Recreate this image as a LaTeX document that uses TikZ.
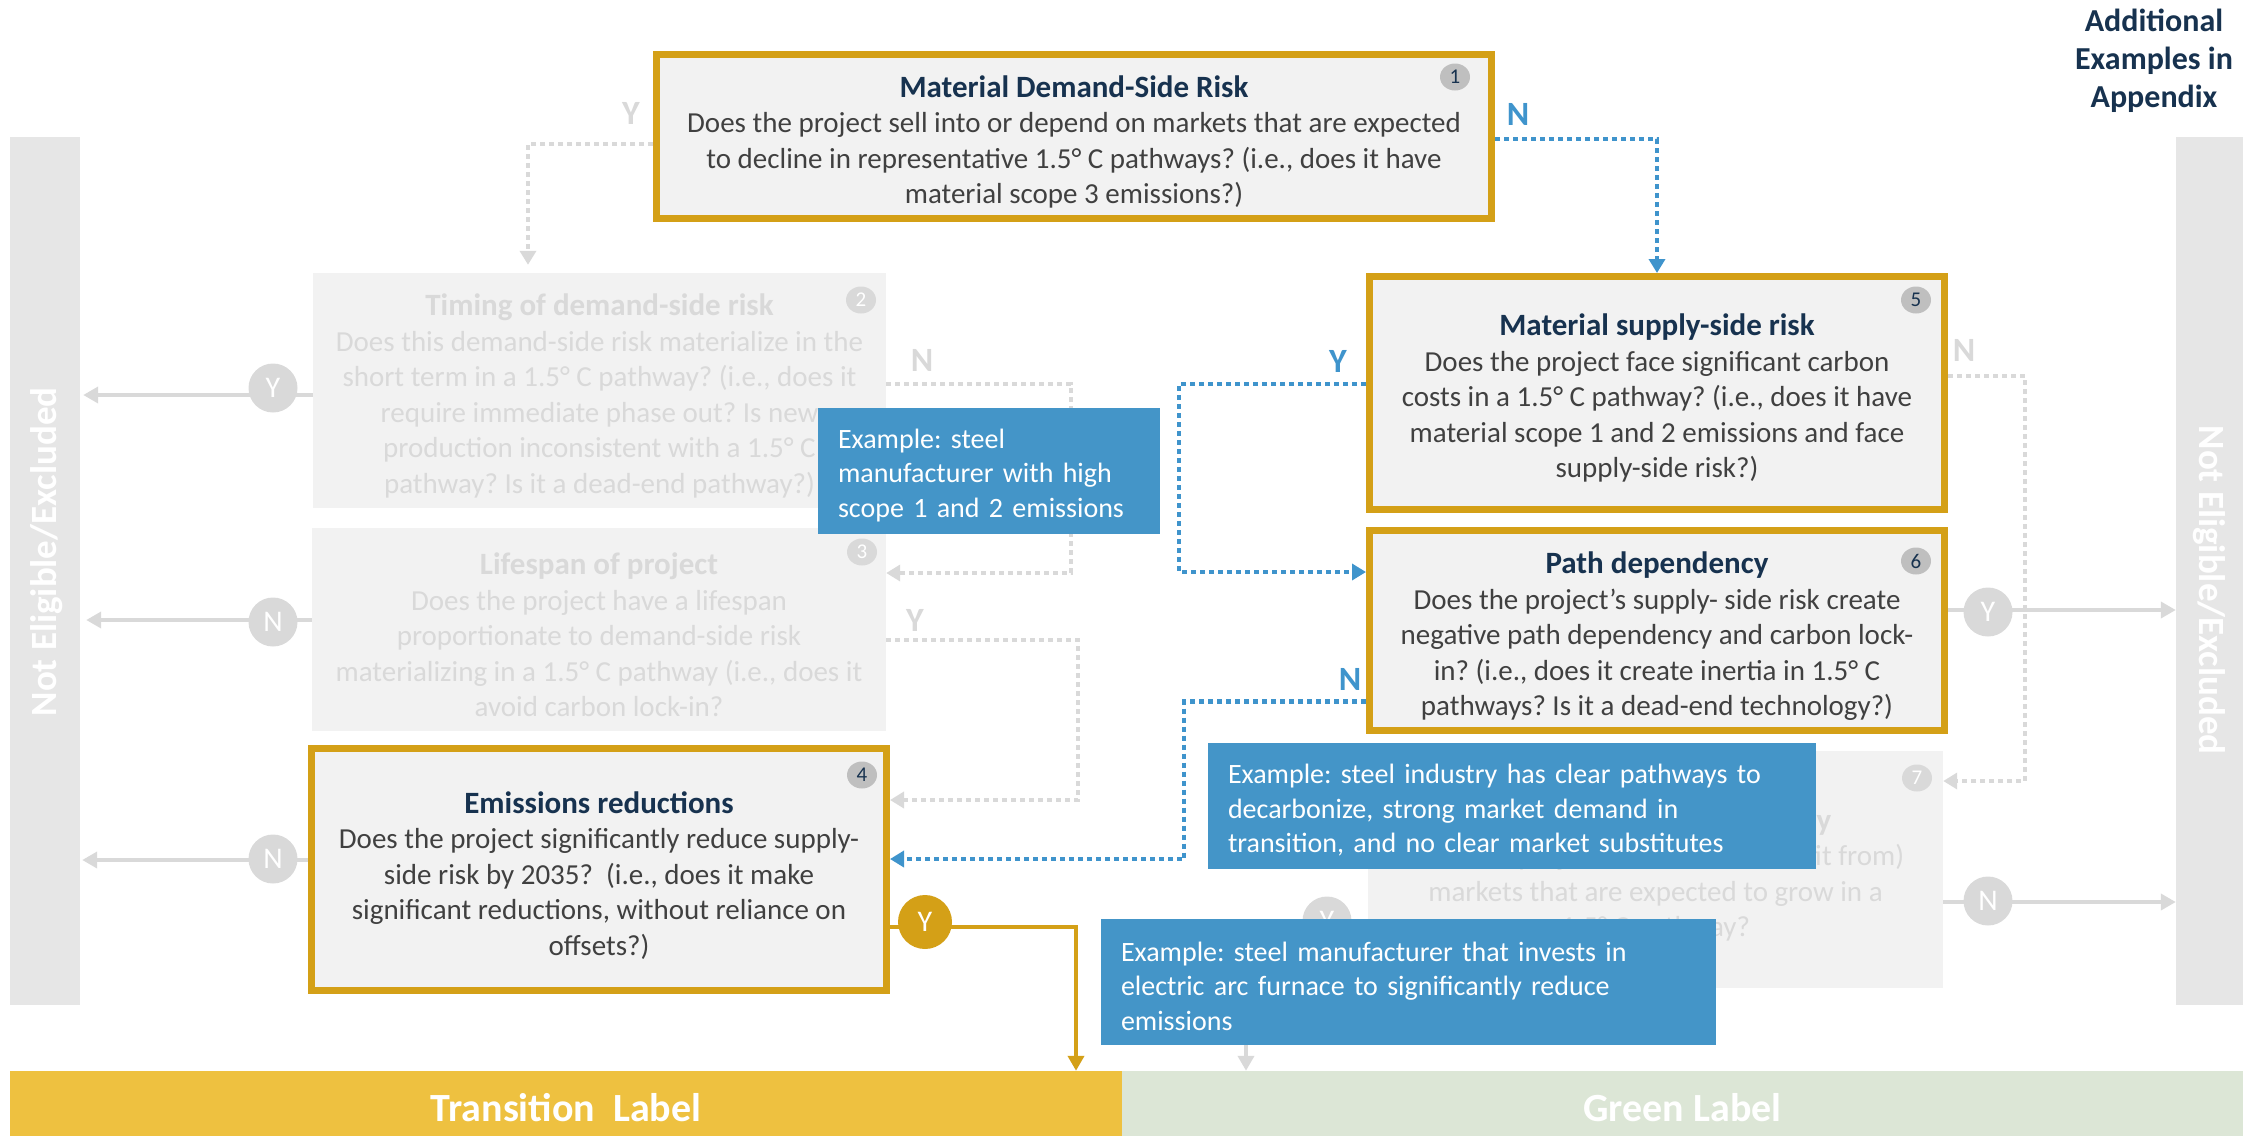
\documentclass[tikz,border=0pt]{standalone}
\usepackage{fontspec}
\setmainfont{Carlito}
\usetikzlibrary{arrows.meta,shapes.geometric}
\frenchspacing

\definecolor{gold}{HTML}{D4A017}
\definecolor{tbar}{HTML}{EEC140}
\definecolor{gbar}{HTML}{DCE6D6}
\definecolor{exblue}{HTML}{4495C8}
\definecolor{lnblue}{HTML}{3F94CC}
\definecolor{boxfill}{HTML}{F2F2F2}
\definecolor{navy}{HTML}{17324F}
\definecolor{bodytxt}{HTML}{404040}
\definecolor{fadetxt}{HTML}{D9D9D9}
\definecolor{ltgray}{HTML}{D9D9D9}
\definecolor{bargray}{HTML}{E6E6E6}
\definecolor{numgray}{HTML}{BFBFBF}

\newcommand\qbody{\fontsize{29}{35.5}\selectfont}
\newcommand\qtitle{\fontsize{31}{35.5}\selectfont\bfseries}
\newcommand\exfont{\fontsize{28}{34.5}\selectfont}
% box heading: a tall strut lowers the text block a little inside its box
\newcommand\boxhead[1]{\rule{0pt}{33pt}{\qtitle #1}}
\newcommand\exstart{\rule{0pt}{28pt}}

\begin{document}
\begin{tikzpicture}[x=1pt,y=-1pt,
  qbox/.style={draw=gold, line width=7pt, fill=boxfill, inner sep=0pt, align=center, text=bodytxt, font=\qbody},
  fbox/.style={fill=boxfill, inner sep=0pt, align=center, text=fadetxt, font=\qbody},
  exbox/.style={fill=exblue, text=white, inner xsep=20pt, inner ysep=0pt, align=left, font=\exfont, minimum height=126pt},
  bar/.style={fill=bargray, inner sep=0pt, minimum width=70pt, minimum height=868pt},
  bartext/.style={text=white, font=\fontsize{37}{37}\selectfont\bfseries, inner sep=0pt},
  lowbar/.style={inner sep=0pt, minimum height=65pt, text height=37pt, text=white, font=\fontsize{40}{40}\selectfont\bfseries},
  numc/.style={ellipse, fill=numgray, text=navy, inner sep=0pt, minimum width=30pt, minimum height=27pt, font=\fontsize{21}{21}\selectfont},
  fnumc/.style={numc, fill=ltgray, text=white},
  ync/.style={circle, fill=ltgray, text=white, inner sep=0pt, minimum size=49pt, font=\fontsize{30}{30}\selectfont},
  gync/.style={ync, fill=gold, minimum size=54pt},
  lbl/.style={inner sep=0pt, font=\fontsize{34}{34}\selectfont\bfseries},
  gdot/.style={draw=ltgray, line width=4.5pt, dash pattern=on 5pt off 4pt, -{Triangle[length=14pt,width=16pt]}},
  bdot/.style={gdot, draw=lnblue},
  garrow/.style={draw=ltgray, line width=4.5pt, -{Triangle[length=15pt,width=16pt]}},
  goldarrow/.style={draw=gold, line width=4.5pt, -{Triangle[length=15pt,width=16pt]}},
]
\useasboundingbox (0,0) rectangle (2243,1136);

% side and bottom bars
\node[bar] (exL) at (45,571) {};
\node[bar, minimum width=67pt] (exR) at (2209.5,571) {};
\node[bartext, rotate=90, anchor=base] (exLt) at (56.5,552) {Not Eligible/Excluded};
\node[bartext, rotate=-90, anchor=base] (exRt) at (2199.5,590) {Not Eligible/Excluded};
\node[lowbar, fill=tbar, minimum width=1112pt] (tran) at (566,1103.5) {Transition\ \ Label};
\node[lowbar, fill=gbar, minimum width=1121pt] (grn) at (1682.5,1103.5) {Green Label};

\node[font=\fontsize{32}{38}\selectfont\bfseries, text=navy, align=center, inner sep=0pt] (app) at (2154,61) {Additional\\Examples in\\Appendix};

% decision boxes
\node[qbox, minimum width=835pt, minimum height=164pt] (b1) at (1074,136.5)
  {\textcolor{navy}{\boxhead{Material Demand-Side Risk}}\\Does the project sell into or depend on markets that are expected\\to decline in representative 1.5° C pathways? (i.e., does it have\\material scope 3 emissions?)};
\node[fbox, minimum width=573pt, minimum height=235pt] (b2) at (599.5,390.5)
  {\boxhead{Timing of demand-side risk}\\Does this demand-side risk materialize in the\\short term in a 1.5° C pathway? (i.e., does it\\require immediate phase out? Is new\\production inconsistent with a 1.5° C\\pathway? Is it a dead-end pathway?)};
\node[fbox, minimum width=574pt, minimum height=203pt] (b3) at (599,629.5)
  {\boxhead{Lifespan of project}\\Does the project have a lifespan\\proportionate to demand-side risk\\materializing in a 1.5° C pathway (i.e., does it\\avoid carbon lock-in?};
\node[qbox, minimum width=575pt, minimum height=242pt] (b4) at (599,869.5)
  {\textcolor{navy}{\boxhead{Emissions reductions}}\\Does the project significantly reduce supply-\\side risk by 2035?\ \ (i.e., does it make\\significant reductions, without reliance on\\offsets?)};
\node[qbox, minimum width=575pt, minimum height=232.5pt] (b5) at (1657,392.75)
  {\textcolor{navy}{\boxhead{Material supply-side risk}}\\Does the project face significant carbon\\costs in a 1.5° C pathway? (i.e., does it have\\material scope 1 and 2 emissions and face\\supply-side risk?)};
\node[qbox, minimum width=575pt, minimum height=200pt] (b6) at (1657,630.5)
  {\textcolor{navy}{\boxhead{Path dependency}}\\Does the project’s supply- side risk create\\negative path dependency and carbon lock-\\in? (i.e., does it create inertia in 1.5° C\\pathways? Is it a dead-end technology?)};
\node[fbox, minimum width=575pt, minimum height=237pt] (b7) at (1655.5,869.5)
  {\boxhead{Material green opportunity}\\Does the project sell into (or benefit from)\\markets that are expected to grow in a\\1.5° C pathway?};

% step numbers
\node[numc] (n1) at (1455,77) {1};
\node[fnumc] (n2) at (861,300) {2};
\node[fnumc] (n3) at (862,552) {3};
\node[numc] (n4) at (862,775) {4};
\node[numc] (n5) at (1916,300) {5};
\node[numc] (n6) at (1916,561) {6};
\node[fnumc] (n7) at (1917,778) {7};

% exits to the side bars
\draw[garrow, shorten >=3pt] (b2.west|-0,395) -- (exL.east|-0,395);
\draw[garrow, shorten >=6pt] (b3.west|-0,620) -- (exL.east|-0,620);
\draw[garrow, shorten >=2pt] (b4.west|-0,860) -- (exL.east|-0,860);
\draw[garrow] (b6.east|-0,610) -- (exR.west|-0,610);
\draw[garrow] (b7.east|-0,902) -- (exR.west|-0,902);
\draw[goldarrow] (b4.east|-0,927) -| (tran.north -| 1076,0);
\draw[garrow] (b7.west|-0,930) -| (grn.north -| 1246,0);

% dotted decision flow
\draw[gdot, shorten >=8pt] (b1.west|-0,144) -| (b2.north -| 528,0);
\draw[bdot] (b1.east|-0,139) -| (b5.north);
\draw[gdot] (b2.east|-0,384) -| (1071,573) -- (b3.east|-0,573);
\draw[gdot] (b3.east|-0,640) -| (1078,800) -- (b4.east|-0,800);
\draw[bdot] (b5.west|-0,384) -| (1179,572) -- (b6.west|-0,572);
\draw[bdot] (b6.west|-0,701.5) -| (1184,859) -- (b4.east|-0,859);
\draw[gdot] (b5.east|-0,376) -| (2025,781) -- (b7.east|-0,781);

% branch labels
\node[lbl, text=ltgray] (lY1) at (631,113) {Y};
\node[lbl, text=lnblue] (lN1) at (1518,114) {N};
\node[lbl, text=ltgray] (lN2) at (922,360) {N};
\node[lbl, text=ltgray] (lY3) at (915,620) {Y};
\node[lbl, text=lnblue] (lY5) at (1338,361) {Y};
\node[lbl, text=ltgray] (lN5) at (1964,350) {N};
\node[lbl, text=lnblue] (lN6) at (1350,679) {N};

% answer circles
\node[ync] (c2) at (273,388) {Y};
\node[ync] (c3) at (273,622) {N};
\node[ync] (c4) at (273,859) {N};
\node[ync] (c6) at (1988,612) {Y};
\node[ync] (c7) at (1988,901) {N};
\node[ync] (c7y) at (1327,921) {Y};
\node[gync] (c4y) at (925,922) {Y};

% example callouts
\node[exbox, minimum width=342pt, text width=302pt] (ex1) at (989,471)
  {\exstart Example: steel\\manufacturer with high\\scope 1 and 2 emissions};
\node[exbox, minimum width=608pt, text width=568pt] (ex2) at (1512,806)
  {\exstart Example: steel industry has clear pathways to\\decarbonize, strong market demand in\\transition, and no clear market substitutes};
\node[exbox, minimum width=615pt, text width=575pt] (ex3) at (1408.5,982)
  {\exstart Example: steel manufacturer that invests in\\electric arc furnace to significantly reduce\\emissions};
\end{tikzpicture}
\end{document}
